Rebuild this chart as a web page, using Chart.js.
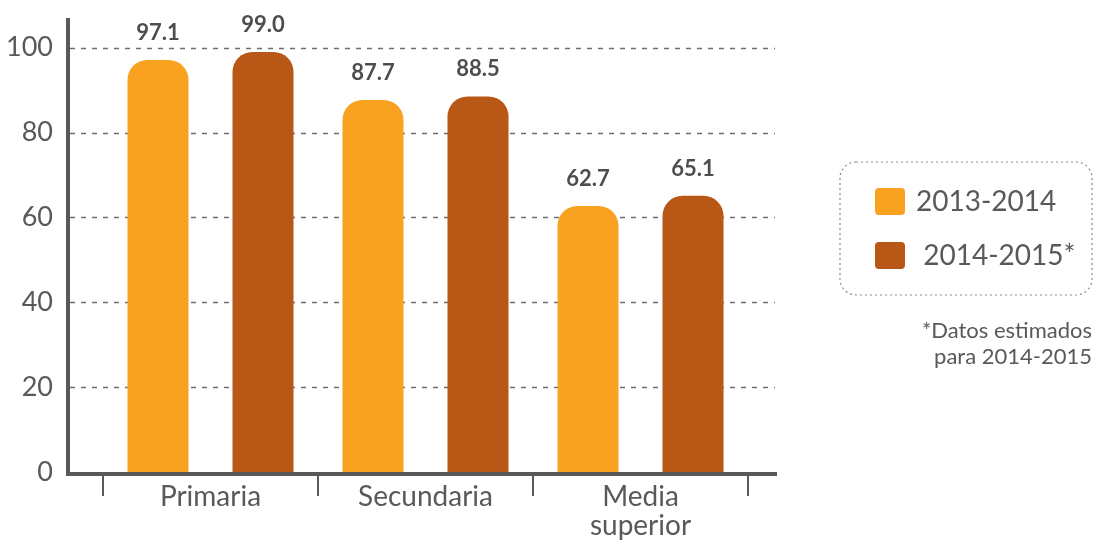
<!DOCTYPE html>
<html>
<head>
<meta charset="utf-8">
<script src="https://cdn.jsdelivr.net/npm/chart.js@4"></script>
<style>
  html, body { margin: 0; padding: 0; background: #fff; }
  #wrap { width: 1095px; height: 543px; position: relative; }
</style>
</head>
<body>
<div id="wrap"><canvas id="chart"></canvas></div>
<script>
// ===== Data =====
const categories = ['Primaria', 'Secundaria', ['Media', 'superior']];
const series2013 = [97.1, 87.7, 62.7];
const series2014 = [99.0, 88.5, 65.1];
const seriesNames = ['2013-2014', ' 2014-2015*'];
const yTicks = [0, 20, 40, 60, 80, 100];
const footnote = ['*Datos estimados', 'para 2014-2015'];

const ORANGE = '#F9A21F';
const BROWN = '#B85716';
const GRAY = '#58595B';
const FONT = 'Lato, "Open Sans", sans-serif';

// ===== Axis lines, dashed grid, ticks, labels, legend =====
const decorPlugin = {
  id: 'decor',
  beforeDatasetsDraw(chart) {
    const { ctx, chartArea, scales } = chart;
    const y = scales.y;
    ctx.save();
    ctx.strokeStyle = '#6d6e70';
    ctx.lineWidth = 1.3;
    ctx.setLineDash([5, 6]);
    yTicks.forEach(v => {
      if (v === 0) return;
      const py = Math.round(y.getPixelForValue(v)) + 0.5;
      ctx.beginPath();
      ctx.moveTo(chartArea.left - 33, py);
      ctx.lineTo(chartArea.right + 27, py);
      ctx.stroke();
    });
    ctx.restore();
  },
  afterDatasetsDraw(chart) {
    const { ctx, chartArea, scales } = chart;
    const y = scales.y;
    const axisX = chartArea.left - 35;
    const base = y.getPixelForValue(0);
    ctx.save();
    ctx.strokeStyle = GRAY;
    ctx.lineWidth = 4;
    ctx.beginPath();
    ctx.moveTo(axisX, chartArea.top);
    ctx.lineTo(axisX, base + 2);
    ctx.lineTo(chartArea.right + 29, base + 2);
    ctx.stroke();

    // category boundary ticks
    ctx.lineWidth = 2;
    const w = (chartArea.right - chartArea.left) / categories.length;
    for (let k = 0; k <= categories.length; k++) {
      const px = Math.round(chartArea.left + k * w);
      ctx.beginPath();
      ctx.moveTo(px, base + 4);
      ctx.lineTo(px, base + 24);
      ctx.stroke();
    }

    // value labels
    ctx.fillStyle = '#4D4D4F';
    ctx.font = 'bold 22px ' + FONT;
    ctx.textAlign = 'center';
    ctx.textBaseline = 'alphabetic';
    chart.data.datasets.forEach((ds, di) => {
      chart.getDatasetMeta(di).data.forEach((bar, i) => {
        ctx.fillText(ds.data[i].toFixed(1), bar.x, bar.y - 20);
      });
    });

    // legend box
    const lx = 840, ly = 162, lw = 252, lh = 133;
    ctx.strokeStyle = '#8a8b8d';
    ctx.lineWidth = 1.2;
    ctx.setLineDash([2, 3]);
    ctx.beginPath();
    ctx.roundRect(lx, ly, lw, lh, 16);
    ctx.stroke();
    ctx.setLineDash([]);
    ctx.font = '28px ' + FONT;
    ctx.textAlign = 'left';
    ctx.textBaseline = 'middle';
    chart.data.datasets.forEach((ds, di) => {
      const cy = 201 + di * 54;
      ctx.fillStyle = ds.backgroundColor;
      ctx.beginPath();
      ctx.roundRect(875, cy - 13, 30, 27, 4);
      ctx.fill();
      ctx.fillStyle = GRAY;
      ctx.fillText(ds.label, 916, cy + 1);
    });

    // footnote
    ctx.font = '22px ' + FONT;
    ctx.textAlign = 'right';
    footnote.forEach((t, i) => ctx.fillText(t, 1092, 331 + i * 26));
    ctx.restore();
  }
};

const barStyle = {
  borderRadius: { topLeft: 20, topRight: 20, bottomLeft: 0, bottomRight: 0 },
  borderSkipped: 'bottom'
};

const ctxChart = document.getElementById('chart').getContext('2d');
new Chart(ctxChart, {
  type: 'bar',
  data: {
    labels: categories,
    datasets: [
      { label: seriesNames[0], data: series2013, backgroundColor: ORANGE, ...barStyle },
      { label: seriesNames[1], data: series2014, backgroundColor: BROWN, ...barStyle }
    ]
  },
  options: {
    responsive: true,
    maintainAspectRatio: false,
    animation: false,
    layout: { padding: { top: 18, right: 347, bottom: 0, left: 0 } },
    categoryPercentage: 0.977,
    barPercentage: 0.581,
    plugins: {
      legend: { display: false },
      tooltip: { enabled: false }
    },
    scales: {
      x: {
        grid: { display: false, drawTicks: false },
        border: { display: false },
        afterFit: s => { s.height = 71; },
        ticks: {
          padding: 10,
          color: GRAY,
          font: { family: FONT, size: 28, lineHeight: 1.05 }
        }
      },
      y: {
        min: 0,
        max: 107,
        afterBuildTicks: s => { s.ticks = yTicks.map(v => ({ value: v })); },
        afterFit: s => { s.width = 103; s.paddingTop = 0; s.paddingBottom = 0; },
        grid: { display: false, drawTicks: false },
        border: { display: false },
        ticks: {
          padding: 50,
          autoSkip: false,
          color: GRAY,
          font: { family: FONT, size: 27 }
        }
      }
    }
  },
  plugins: [decorPlugin]
});
</script>
</body>
</html>
